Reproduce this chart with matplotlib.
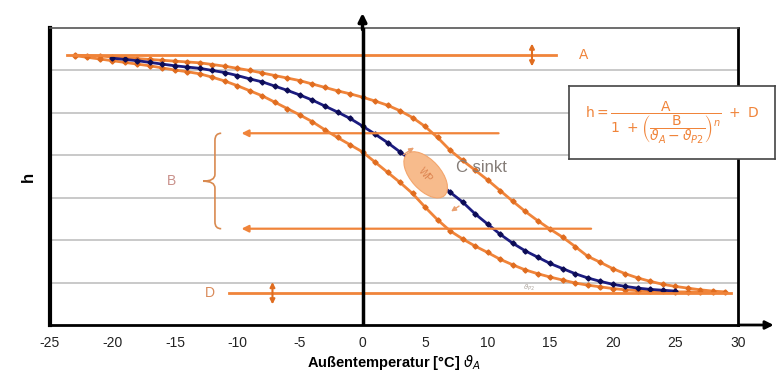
""" Heizkurve: Einfluss der Parameter A, B, C, D auf die Sigmoid-Kurve. """

import matplotlib.pyplot as plt
import matplotlib.transforms as mtransforms
from matplotlib.patches import Ellipse, PathPatch
from matplotlib.path import Path

plt.rcParams['font.family'] = ['Liberation Sans', 'DejaVu Sans']
plt.rcParams['axes.unicode_minus'] = False
plt.rcParams['mathtext.fontset'] = 'dejavusans'

# Kurven
temp_blue = list(range(-20, 26))
h_blue = [6.29, 6.26, 6.23, 6.19, 6.15, 6.11, 6.08, 6.05, 6.00, 5.95,
          5.88, 5.80, 5.73, 5.63, 5.53, 5.42, 5.30, 5.16, 5.02, 4.87,
          4.69, 4.50, 4.30, 4.08, 3.86, 3.63, 3.38, 3.13, 2.90, 2.62,
          2.38, 2.14, 1.93, 1.75, 1.60, 1.45, 1.33, 1.21, 1.11, 1.03,
          0.96, 0.91, 0.87, 0.84, 0.82, 0.80]

temp_upper = list(range(-23, 30))
h_upper = [6.36, 6.35, 6.34, 6.32, 6.30, 6.28, 6.26, 6.24, 6.22, 6.20,
           6.18, 6.14, 6.10, 6.05, 6.00, 5.94, 5.88, 5.82, 5.76, 5.68,
           5.60, 5.52, 5.45, 5.37, 5.28, 5.18, 5.05, 4.89, 4.68, 4.42,
           4.12, 3.88, 3.65, 3.42, 3.17, 2.92, 2.68, 2.46, 2.26, 2.07,
           1.85, 1.62, 1.48, 1.33, 1.21, 1.11, 1.03, 0.96, 0.91, 0.87,
           0.83, 0.80, 0.78]

temp_lower = list(range(-23, 29))
h_lower = [6.35, 6.31, 6.27, 6.23, 6.19, 6.15, 6.11, 6.06, 6.01, 5.97,
           5.92, 5.84, 5.75, 5.64, 5.52, 5.40, 5.25, 5.10, 4.95, 4.79,
           4.60, 4.42, 4.25, 4.08, 3.84, 3.60, 3.36, 3.10, 2.78, 2.48,
           2.22, 2.03, 1.86, 1.71, 1.55, 1.42, 1.30, 1.21, 1.13, 1.06,
           0.99, 0.94, 0.90, 0.86, 0.83, 0.81, 0.80, 0.79, 0.78, 0.78,
           0.78, 0.78]

# Hilfslinien A, D, B
a_level = 6.36
a_span = [-23.6, 15.5]
d_level = 0.76
d_span = [-10.7, 29.5]
b_levels = [4.52, 2.27]
b_starts = [11.1, 18.5]
b_end = -9.9

xticks = [-25, -20, -15, -10, -5, 0, 5, 10, 15, 20, 25, 30]

orange = '#f0843a'
orange_dark = '#e06d20'
navy = '#1c1c80'

fig = plt.figure(figsize=(7.79, 3.74), dpi=100)
ax = fig.add_axes([0.064, 0.131, 0.883, 0.794])
ax.set_xlim(-25, 30)
ax.set_ylim(0, 7)

for y in range(1, 7):
    ax.axhline(y, color='#c9c9c9', lw=1.4, zorder=0)

ax.plot(temp_upper, h_upper, color=orange, lw=2, marker='D', ms=2.6,
        mfc=orange_dark, mec=orange_dark, zorder=3)
ax.plot(temp_lower, h_lower, color=orange, lw=2, marker='D', ms=2.6,
        mfc=orange_dark, mec=orange_dark, zorder=3)
ax.plot(temp_blue, h_blue, color=navy, lw=2, marker='D', ms=2.6,
        mfc='#0c0c55', mec='#0c0c55', zorder=4)

# A und D
ax.plot(a_span, [a_level, a_level], color=orange, lw=2, zorder=5)
ax.plot(d_span, [d_level, d_level], color=orange, lw=2, zorder=5)
ax.annotate('', xy=(13.55, 6.70), xytext=(13.55, 6.03),
            arrowprops=dict(arrowstyle='<|-|>', color=orange_dark, lw=1.5,
                            mutation_scale=7), zorder=6)
ax.annotate('', xy=(-7.2, 1.08), xytext=(-7.2, 0.42),
            arrowprops=dict(arrowstyle='<|-|>', color=orange_dark, lw=1.5,
                            mutation_scale=7), zorder=6)
ax.text(17.3, a_level, 'A', color=orange, fontsize=10, va='center')
ax.text(-12.2, d_level, 'D', color='#d98a5a', fontsize=10, va='center', ha='center')
ax.text(12.8, 0.88, r'$\vartheta_{P2}$', color='#b0a8a0', fontsize=5, va='center')

# B
for lvl, x0 in zip(b_levels, b_starts):
    ax.annotate('', xy=(b_end, lvl), xytext=(x0, lvl),
                arrowprops=dict(arrowstyle='-|>', color=orange, lw=1.6,
                                mutation_scale=10), zorder=5)
bx = -11.8
verts = [(-11.3, 4.52), (bx, 4.52), (bx, 4.35),
         (bx, 3.55), (bx, 3.39), (-12.75, 3.39),
         (bx, 3.39), (bx, 3.23),
         (bx, 2.43), (bx, 2.27), (-11.3, 2.27)]
codes = [Path.MOVETO, Path.CURVE3, Path.CURVE3,
         Path.LINETO, Path.CURVE3, Path.CURVE3,
         Path.CURVE3, Path.CURVE3,
         Path.LINETO, Path.CURVE3, Path.CURVE3]
ax.add_patch(PathPatch(Path(verts, codes), fc='none', ec='#d98a50', lw=1.2))
ax.text(-15.3, 3.39, 'B', color='#c9908a', fontsize=10, va='center', ha='center')

# Wendepunkt und C
trans = fig.dpi_scale_trans + mtransforms.ScaledTranslation(5.05, 3.54, ax.transData)
ax.add_patch(Ellipse((0, 0), 0.56, 0.30, angle=-48, transform=trans,
                     fc='#f7bb8c', ec='#f3a56c', lw=0.8, zorder=6))
ax.text(5.05, 3.54, 'WP', rotation=-50, color='#dd8450', fontsize=7,
        ha='center', va='center', zorder=7)
ax.text(7.5, 3.72, 'C sinkt', color='#857d78', fontsize=12, va='center')
ax.annotate('', xy=(4.3, 4.22), xytext=(3.1, 3.98),
            arrowprops=dict(arrowstyle='-|>', color='#e9a070', lw=1,
                            mutation_scale=7), zorder=6)
ax.annotate('', xy=(6.9, 2.64), xytext=(7.9, 2.84),
            arrowprops=dict(arrowstyle='-|>', color='#e9a070', lw=1,
                            mutation_scale=7), zorder=6)

# Achsen
for side in ['left', 'right', 'top', 'bottom']:
    ax.spines[side].set_color('black')
ax.spines['left'].set_linewidth(3)
ax.spines['right'].set_linewidth(2)
ax.spines['bottom'].set_linewidth(2)
ax.spines['top'].set_linewidth(1.2)
ax.spines['top'].set_color('#555555')
ax.axvline(0, color='black', lw=2.5, zorder=5)
ax.annotate('', xy=(0, 7.42), xytext=(0, 6.9),
            arrowprops=dict(arrowstyle='-|>', color='black', lw=2.5,
                            mutation_scale=12), annotation_clip=False)
ax.annotate('', xy=(33.1, 0), xytext=(29.9, 0),
            arrowprops=dict(arrowstyle='-|>', color='black', lw=2,
                            mutation_scale=12), annotation_clip=False)

ax.set_xticks(xticks)
ax.set_yticks([])
ax.tick_params(axis='x', length=0, pad=8, labelsize=10, labelcolor='#222222')
ax.set_xlabel(r'Außentemperatur [°C] $\vartheta_A$', fontsize=10.5,
              fontweight='bold', labelpad=2)
ax.set_ylabel('h', fontsize=12, fontweight='bold', labelpad=10)

# Formel
fax = fig.add_axes([569 / 779, 1 - 159 / 374, 206 / 779, 73 / 374])
fax.set_xticks([])
fax.set_yticks([])
for s in fax.spines.values():
    s.set_color('#444444')
    s.set_linewidth(1.2)
fax.text(0.5, 0.5,
         r'$\mathrm{h} = \dfrac{\mathrm{A}}{1\ +\left(\dfrac{\mathrm{B}}'
         r'{\vartheta_A-\vartheta_{P2}}\right)^{n}}\ +\ \mathrm{D}$',
         color=orange, fontsize=10, ha='center', va='center')

fig.savefig('out.png', dpi=100)
